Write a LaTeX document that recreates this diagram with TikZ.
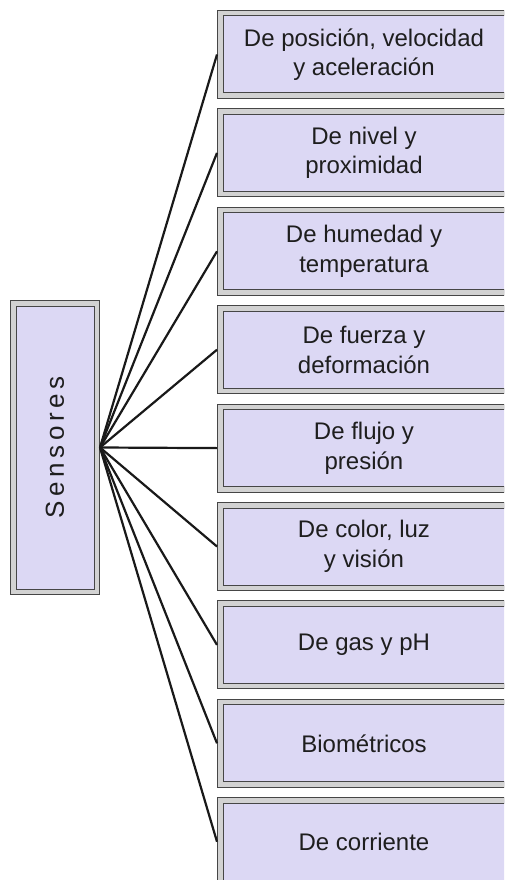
\documentclass[tikz,border=0pt]{standalone}
\usepackage{fontspec}
\setmainfont{Liberation Sans}
\definecolor{lav}{RGB}{220,216,244}
\definecolor{band}{RGB}{210,210,210}
\definecolor{edge}{RGB}{70,70,70}
\definecolor{txt}{RGB}{30,30,30}
\tikzset{
  sbox/.style={rectangle, fill=lav, draw=edge, double=band, double distance=4.5pt,
    line width=1pt, outer sep=3.25pt, inner sep=0pt, align=center, text=txt,
    font=\fontsize{24}{29.5}\selectfont},
  rbox/.style={sbox, minimum width=287.5pt, minimum height=82.5pt},
  conn/.style={draw=black!90, line width=2.2pt}
}
\begin{document}
\begin{tikzpicture}[x=1pt,y=-1pt]
\useasboundingbox (0,0) rectangle (504,880);
\clip (0,0) rectangle (504,880);
\node[sbox, minimum width=83.5pt, minimum height=288.5pt, font=\fontsize{26}{30}\selectfont] (S) at (55,447.5)
  {\rotatebox{90}{S\hspace{4.5pt}e\hspace{4.5pt}n\hspace{4.5pt}s\hspace{4.5pt}o\hspace{4.5pt}r\hspace{4.5pt}e\hspace{4.5pt}s}};
\node[rbox] (b1) at (364,54.5) {De posición, velocidad\\y aceleración};
\node[rbox] (b2) at (364,152.9) {De nivel y\\proximidad};
\node[rbox] (b3) at (364,251.3) {De humedad y\\temperatura};
\node[rbox] (b4) at (364,349.7) {De fuerza y\\deformación};
\node[rbox] (b5) at (364,448.1) {De flujo y\\presión};
\node[rbox] (b6) at (364,546.5) {De color, luz\\y visión};
\node[rbox] (b7) at (364,644.9) {De gas y pH};
\node[rbox] (b8) at (364,743.3) {Biométricos};
\node[rbox] (b9) at (364,841.7) {De corriente};
\foreach \i in {1,...,9} \draw[conn] (S.east) -- (b\i.west);
\end{tikzpicture}
\end{document}
